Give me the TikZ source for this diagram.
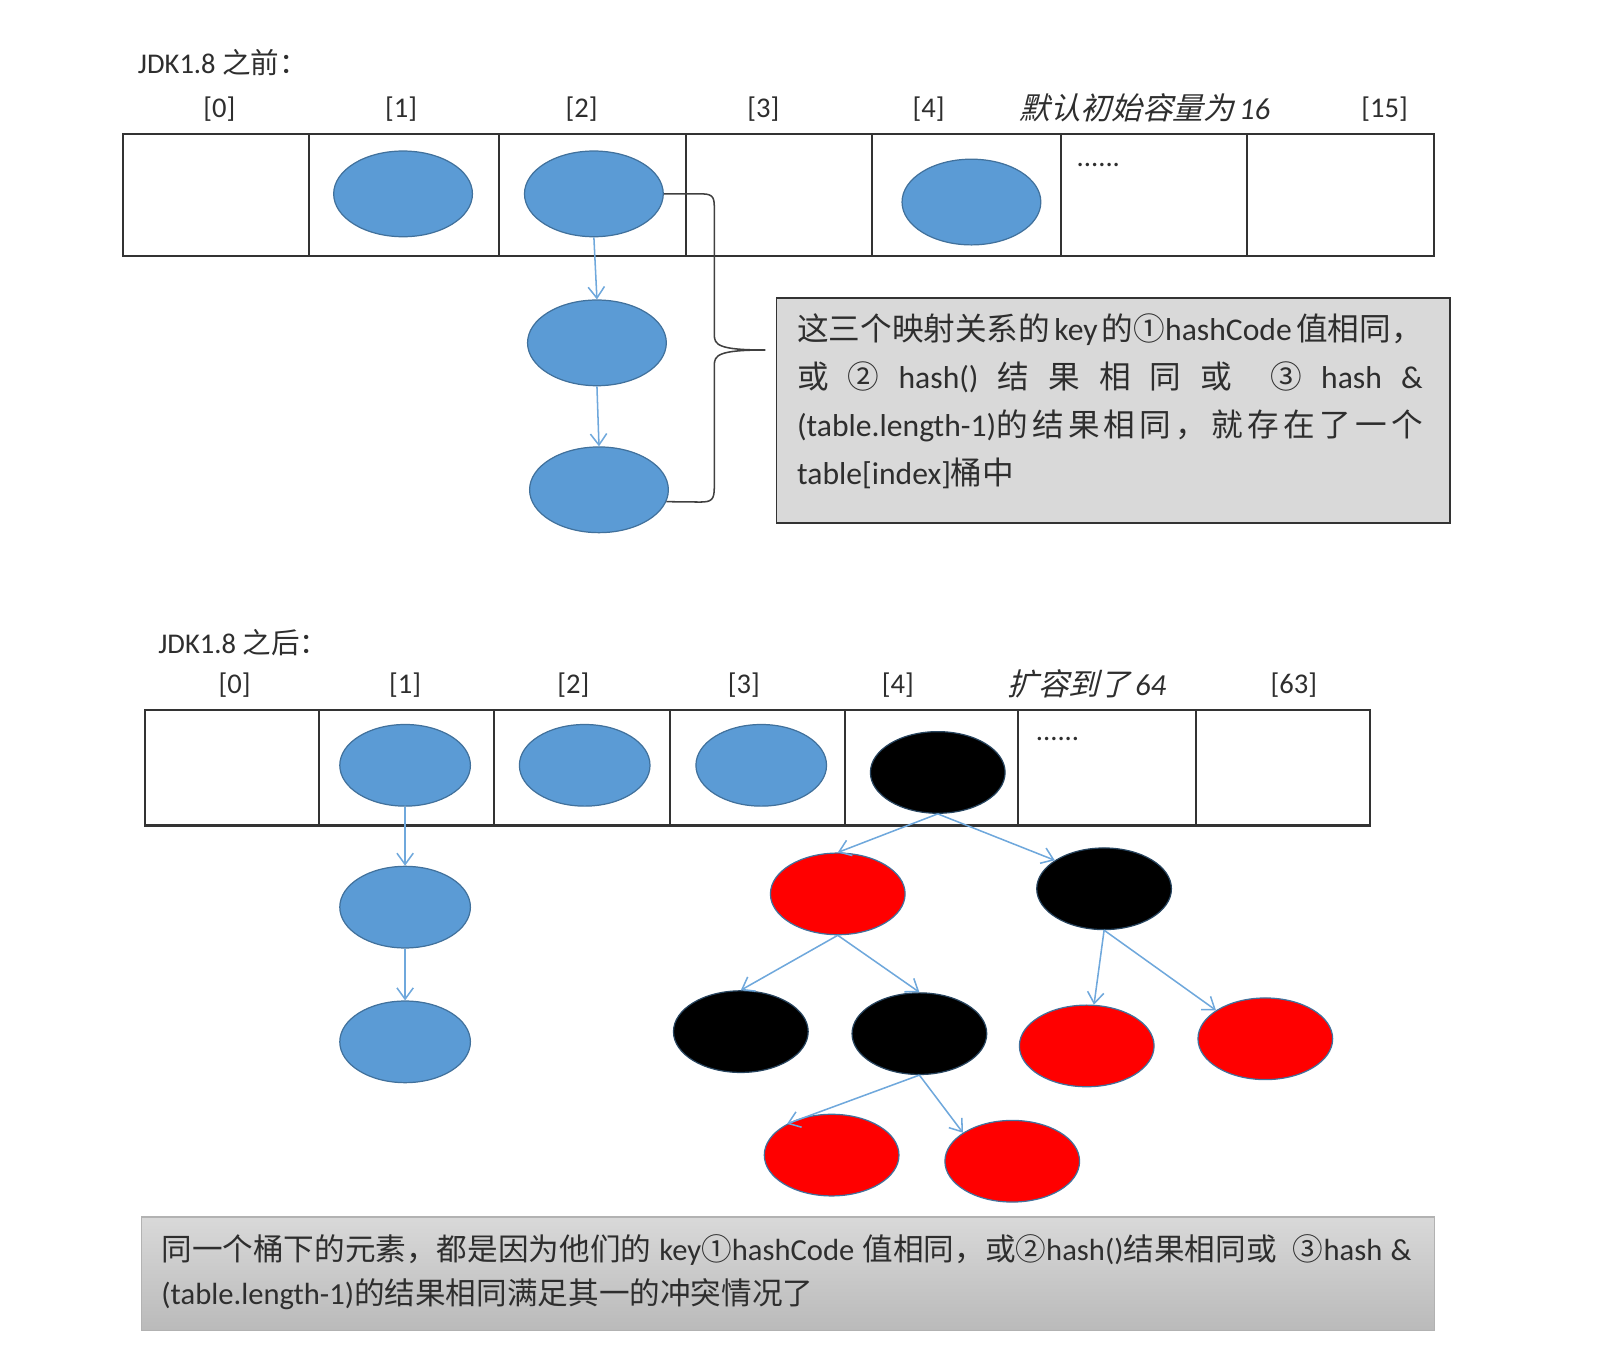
\documentclass[tikz,border=0pt]{standalone}
\usepackage{fontspec}
\setmainfont{Carlito}
\newfontfamily\cjk{Noto Sans CJK SC}
\newfontfamily\cjksl[FakeSlant=0.25]{Noto Sans CJK SC}
\usetikzlibrary{shapes.geometric,arrows.meta}
\definecolor{nodeblue}{HTML}{5B9BD5}
\definecolor{nodeedge}{HTML}{41719C}
\definecolor{arrowblue}{HTML}{6FA8DC}
\definecolor{txt}{HTML}{2E2E2E}
\definecolor{boxgray}{HTML}{D9D9D9}
\newcommand{\lblfont}{\fontsize{28}{30}\selectfont}
\newcommand{\boxfont}{\fontsize{31}{35}\selectfont}
\newcommand{\notefont}{\fontsize{30}{34}\selectfont}
\begin{document}
\begin{tikzpicture}[x=1pt,y=-1pt,
  tbl/.style={draw=black!80, line width=2pt},
  bnode/.style={ellipse, draw=nodeedge, fill=nodeblue, line width=1.2pt, minimum width=136pt, minimum height=84pt, inner sep=0pt},
  snode/.style={ellipse, line width=1.2pt, minimum width=128pt, minimum height=80pt, inner sep=0pt},
  bsmall/.style={snode, draw=nodeedge, fill=nodeblue},
  blk/.style={snode, minimum width=132pt, draw=nodeedge!60!black, fill=black},
  redn/.style={snode, minimum width=132pt, draw=nodeedge, fill=red},
  link/.style={draw=arrowblue, line width=1.5pt, -{Straight Barb[length=11pt,width=16pt,line width=1.5pt]}},
  lbl/.style={font=\lblfont, text=txt, inner sep=0pt, anchor=base},
  ttl/.style={font=\lblfont, text=txt, inner sep=0pt, anchor=base west},
  bline/.style={font=\boxfont, text=txt, inner sep=0pt, anchor=base west},
  nline/.style={font=\notefont, text=txt, inner sep=0pt, anchor=base west},
  brace/.style={draw=black!75, line width=1.5pt}
]
\useasboundingbox (0,0) rectangle (1568,1340);

% ================= before JDK1.8 =================
\node[ttl] (title1) at (135,72) {JDK1.8 {\cjk 之前：}};
\node[lbl] (a0) at (215,115) {[0]};
\node[lbl] (a1) at (393,115) {[1]};
\node[lbl] (a2) at (570,115) {[2]};
\node[lbl] (a3) at (748,115) {[3]};
\node[lbl] (a4) at (910,115) {[4]};
\node[lbl, font=\fontsize{30}{32}\selectfont] (acap) at (1122,117) {{\cjksl 默认初始容量为}\hspace{5pt}\textit{16}};
\node[lbl] (a15) at (1357,115) {[15]};

\draw[tbl] (121,131) rectangle (1405,251);
\foreach \xx in {303,489,672,855,1040,1222} \draw[tbl] (\xx,131) -- (\xx,251);
\node[ttl] (dots1) at (1055,163) {......};

\node[bnode] (t1) at (395,190) {};
\node[bnode] (t2) at (582,190) {};
\node[bnode] (t4) at (952,198) {};
\node[bnode] (c1) at (585,336) {};
\node[bnode] (c2) at (587,480) {};
\draw[link] (t2.south) -- (c1.north);
\draw[link] (c1.south) -- (c2.north);

\node[draw=black!80, fill=boxgray, line width=1.8pt, minimum width=660pt, minimum height=221pt, inner sep=0pt, anchor=north west] (box1) at (760,291) {};
\coordinate (tip) at (750,343);
\draw[brace] (t2.east) -- (688,190) .. controls (700,190) and (700,195) .. (700,205) -- (700,328) .. controls (700,338) and (704,343) .. (tip)
  .. controls (704,343) and (700,348) .. (700,358) -- (700,478) .. controls (700,490) and (697,492) .. (686,492) -- (c2.-10);

\node[bline] (l1) at (781,334) {\hbox to 613pt{{\cjk 这三个映射关系的}\hfil key\hfil{\cjk 的①}hashCode\hfil{\cjk 值相同，}}};
\node[bline] (l2) at (781,381) {\hbox to 613pt{{\cjk 或}\hfil{\cjk ②}\hfil hash()\hfil{\cjk 结}\hfil{\cjk 果}\hfil{\cjk 相}\hfil{\cjk 同}\hfil{\cjk 或}\hfil\hfil{\cjk ③}\hfil hash\hfil\&}};
\node[bline] (l3) at (781,428) {\hbox to 613pt{(table.length-1){\cjk 的}\hfil{\cjk 结}\hfil{\cjk 果}\hfil{\cjk 相}\hfil{\cjk 同}\hfil{\cjk ，}\hfil{\cjk 就}\hfil{\cjk 存}\hfil{\cjk 在}\hfil{\cjk 了}\hfil{\cjk 一}\hfil{\cjk 个}}};
\node[bline] (l4) at (781,475) {table[index]{\cjk 桶中}};

% ================= after JDK1.8 =================
\node[ttl] (title2) at (155,640) {JDK1.8 {\cjk 之后：}};
\node[lbl] (b0) at (230,680) {[0]};
\node[lbl] (b1) at (397,680) {[1]};
\node[lbl] (b2) at (562,680) {[2]};
\node[lbl] (b3) at (729,680) {[3]};
\node[lbl] (b4) at (880,680) {[4]};
\node[lbl, font=\fontsize{30}{32}\selectfont] (bcap) at (1065,682) {{\cjksl 扩容到了}\hspace{5pt}\textit{64}};
\node[lbl] (b63) at (1268,680) {[63]};

\draw[tbl] (142,696) rectangle (1343,809);
\foreach \xx in {313,484,657,828,998,1172} \draw[tbl] (\xx,696) -- (\xx,809);
\node[ttl] (dots2) at (1015,726) {......};

\node[bsmall] (s1) at (397,750) {};
\node[bsmall] (s2) at (573,750) {};
\node[bsmall] (s3) at (746,750) {};
\node[blk] (r0) at (919,757) {};
\node[bsmall] (d1) at (397,889) {};
\node[bsmall] (d2) at (397,1021) {};
\draw[link] (s1.south) -- (d1.north);
\draw[link] (d1.south) -- (d2.north);

\node[redn] (r1) at (821,876) {};
\node[blk] (r2) at (1082,871) {};
\node[blk] (r3) at (726,1011) {};
\node[blk] (r4) at (901,1013) {};
\node[redn] (r5) at (1065,1025) {};
\node[redn] (r6) at (1240,1018) {};
\node[redn] (r7) at (815,1132) {};
\node[redn] (r8) at (992,1138) {};

\draw[link] (r0.south) -- (r1.north);
\draw[link] (r0.south) -- (r2.150);
\draw[link] (r1.south) -- (r3.north);
\draw[link] (r1.south) -- (r4.north);
\draw[link] (r2.south) -- (r5.80);
\draw[link] (r2.south) -- (r6.150);
\draw[link] (r4.south) -- (r7.145);
\draw[link] (r4.south) -- (r8.150);

\node[shade, top color=black!15, bottom color=black!27, draw=black!30, line width=1.2pt, minimum width=1267pt, minimum height=111pt, inner sep=0pt, anchor=north west] (box2) at (138,1192) {};
\node[nline] (m1) at (158,1235) {\hbox to 1225pt{{\cjk 同一个桶下的元素，都是因为他们的}\hfil key{\cjk ①}hashCode\hfil{\cjk 值相同，或②}hash(){\cjk 结果相同或}\hfil\hfil{\cjk ③}hash\hfil\&}};
\node[nline] (m2) at (158,1278) {(table.length-1){\cjk 的结果相同满足其一的冲突情况了}};
\end{tikzpicture}
\end{document}
